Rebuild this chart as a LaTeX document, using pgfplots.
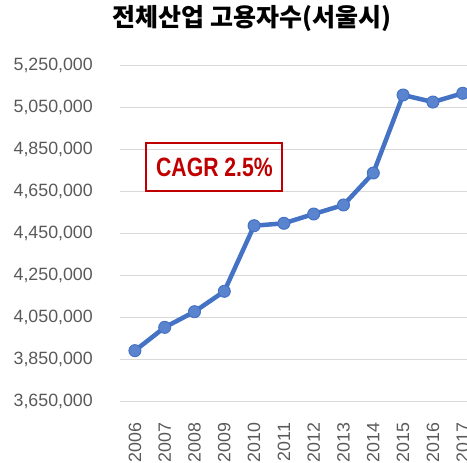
\documentclass[border=0pt]{standalone}
\usepackage{fontspec}
\setmainfont{Liberation Sans}
\newfontfamily\cjk{Noto Sans CJK KR}
\newfontfamily\narrow{Liberation Sans}[FakeStretch=0.8]
\usepackage{pgfplots}
\pgfplotsset{compat=1.18}
\definecolor{serieblue}{HTML}{4472C4}
\definecolor{markfill}{HTML}{5B84CF}
\definecolor{ticktext}{HTML}{595959}
\definecolor{gridgray}{HTML}{D9D9D9}
\definecolor{cagrred}{HTML}{C00000}
\begin{document}
\begin{tikzpicture}
\begin{axis}[
  at={(120pt,61.3pt)}, anchor=south west,
  scale only axis, width=357.6pt, height=336pt,
  xmin=-0.5, xmax=11.5, ymin=3650000, ymax=5250000,
  xtick={0,1,2,3,4,5,6,7,8,9,10,11},
  xticklabels={2006,2007,2008,2009,2010,2011,2012,2013,2014,2015,2016,2017},
  ytick={3650000,3850000,4050000,4250000,4450000,4650000,4850000,5050000,5250000},
  scaled y ticks=false,
  /pgf/number format/.cd, fixed, 1000 sep={,}, assume math mode=true,
  /pgfplots/.cd,
  tick label style={font=\fontsize{17.8}{20}\selectfont, text=ticktext, inner sep=0pt},
  yticklabel style={anchor=east},
  yticklabel shift=27pt,
  xticklabel style={rotate=90, anchor=east},
  xticklabel shift=21pt,
  axis line style={draw=none},
  major tick length=0pt,
  ymajorgrids, grid style={gridgray, line width=1.3pt},
]
\addplot[serieblue, line width=4.5pt, line join=round, mark=*, mark size=6pt,
  mark options={fill=markfill, draw=serieblue, line width=1pt}] coordinates {
  (0,3893000) (1,4004000) (2,4078600) (3,4175700) (4,4488000) (5,4499500)
  (6,4543800) (7,4586700) (8,4739000) (9,5110500) (10,5077000) (11,5118600)};
\node[draw=cagrred, line width=2pt, minimum width=136pt, minimum height=48pt,
  text=cagrred, font=\narrow\bfseries\fontsize{26.5}{30}\selectfont]
  at (axis cs:2.67,4765238) {CAGR 2.5\%};
\end{axis}
\node[font=\cjk\bfseries\fontsize{25}{28}\selectfont] at (252pt,444.5pt) {전체산업 고용자수(서울시)};
\pgfresetboundingbox
\useasboundingbox (0pt,0pt) rectangle (467pt,463pt);
\end{tikzpicture}
\end{document}
